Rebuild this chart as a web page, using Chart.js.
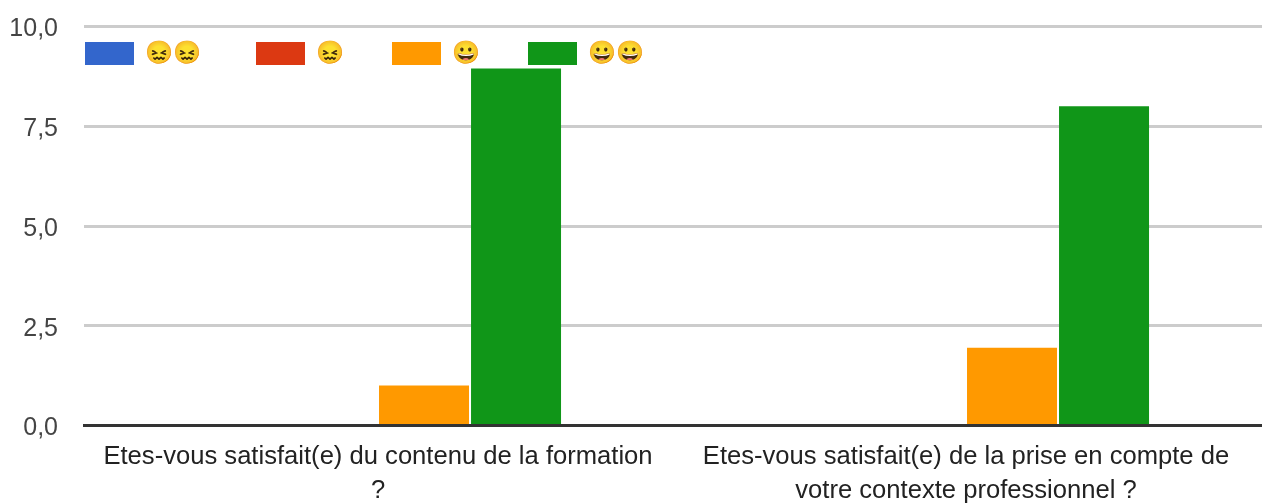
<!DOCTYPE html>
<html>
<head>
<meta charset="utf-8">
<script src="https://cdn.jsdelivr.net/npm/chart.js@4"></script>
<style>
  html, body { margin: 0; padding: 0; background: #fff; overflow: hidden; }
  #wrap { position: relative; width: 1262px; height: 503px; }
  #legend span { position: absolute; top: 38px; font: 22.5px/30px "Liberation Sans", sans-serif; white-space: nowrap; }
  #legend i { position: absolute; top: 42px; width: 49px; height: 23px; }
</style>
</head>
<body>
<div id="wrap">
  <canvas id="chart" width="1262" height="503"></canvas>
  <div id="legend"></div>
</div>
<script>
const categories = [
  ["Etes-vous satisfait(e) du contenu de la formation", "?"],
  ["Etes-vous satisfait(e) de la prise en compte de", "votre contexte professionnel ?"]
];
const seriesNames = ["😖😖", "😖", "😀", "😀😀"];
const seriesColors = ["#3366cc", "#dc3912", "#ff9900", "#109618"];
const seriesValues = [
  [0, 0],
  [0, 0],
  [1, 1.95],
  [8.95, 8]
];
const yTicks = [0, 2.5, 5, 7.5, 10];
const swatchLeft = [85, 256, 392, 528];

// legend sits on top of the plot, at fixed spots like the original
const legend = document.getElementById("legend");
seriesNames.forEach((name, i) => {
  const box = document.createElement("i");
  box.style.left = swatchLeft[i] + "px";
  box.style.background = seriesColors[i];
  legend.appendChild(box);
  const text = document.createElement("span");
  text.style.left = (swatchLeft[i] + 60) + "px";
  text.textContent = name;
  legend.appendChild(text);
});

// the lines run on to the page edge, past the last category
const extendLines = {
  id: "extendLines",
  beforeDatasetsDraw(chart) {
    const { ctx, chartArea, scales } = chart;
    yTicks.forEach(v => {
      const py = Math.floor(scales.y.getPixelForValue(v)) + 0.5;
      ctx.save();
      ctx.strokeStyle = v === 0 ? "#333333" : "#cccccc";
      ctx.lineWidth = 3;
      ctx.beginPath();
      ctx.moveTo(chartArea.right, py);
      ctx.lineTo(chart.width, py);
      ctx.stroke();
      ctx.restore();
    });
  }
};

new Chart(document.getElementById("chart"), {
  type: "bar",
  data: {
    labels: categories,
    datasets: seriesNames.map((name, i) => ({
      label: name,
      data: seriesValues[i],
      backgroundColor: seriesColors[i],
      categoryPercentage: 0.626,
      barPercentage: 0.978
    }))
  },
  plugins: [extendLines],
  options: {
    responsive: false,
    animation: false,
    layout: { padding: { top: 26.5, right: 2, bottom: 0, left: 0 } },
    plugins: { legend: { display: false }, tooltip: { enabled: false } },
    scales: {
      x: {
        grid: { display: false, drawTicks: false },
        border: { display: true, color: "#333333", width: 3 },
        afterFit: axis => { axis.height = 77.5; },
        ticks: { color: "#222222", font: { family: "Liberation Sans", size: 25.6, lineHeight: 1.33 }, maxRotation: 0, padding: 14 }
      },
      y: {
        min: 0,
        max: 10,
        afterBuildTicks: axis => { axis.ticks = yTicks.map(v => ({ value: v })); },
        // tick padding would otherwise push the plot top down
        afterFit: axis => { axis.width = 84; axis.paddingTop = 0; axis.paddingBottom = 0; },
        grid: { color: "#cccccc", lineWidth: 3, drawTicks: false },
        border: { display: false },
        ticks: {
          color: "#444444",
          font: { family: "Liberation Sans", size: 25, lineHeight: "6px" },
          padding: 26,
          // empty first line nudges the label down a little
          callback: v => ["", v.toFixed(1).replace(".", ",")]
        }
      }
    }
  }
});
</script>
</body>
</html>
